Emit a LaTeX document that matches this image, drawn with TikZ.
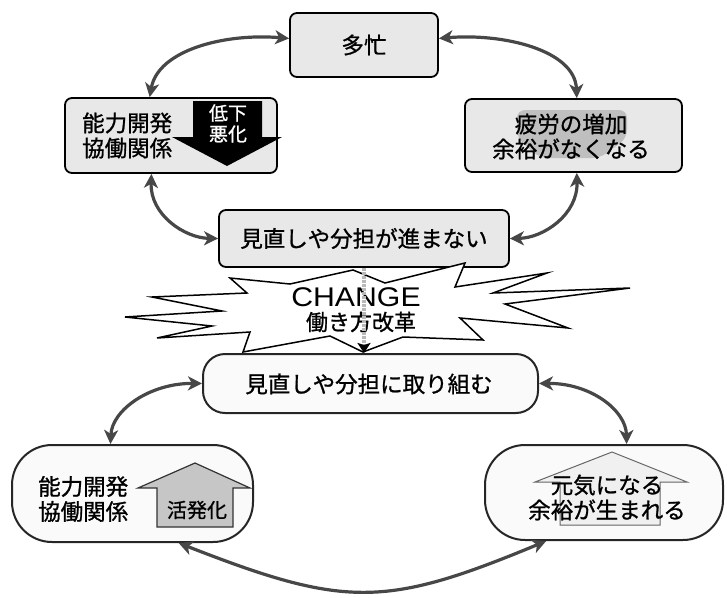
\documentclass[tikz,border=0pt]{standalone}
\usepackage{fontspec}
\usepackage{graphicx}
\setmainfont{Liberation Sans}
\newfontfamily\jp[FakeBold=1]{Noto Sans CJK JP}
\usetikzlibrary{arrows.meta}
\tikzset{
  cyc/.style={line width=3.2pt, draw=black!72,
    {Stealth[length=14pt,width=14pt,inset=4pt]}-{Stealth[length=14pt,width=14pt,inset=4pt]}},
  vert/.style={line width=4pt, draw=gray!55, dash pattern=on 3pt off 1pt, -{Stealth[length=10pt,width=13pt,inset=2pt,black]}},
  ubox/.style={draw=black, line width=1.8pt, rounded corners=7pt, fill=gray!18, inner sep=0pt},
  lbox/.style={draw=black!85, line width=2pt, fill=gray!4, inner sep=0pt},
  jt/.style={font=\jp\fontsize{22.5}{25}\selectfont, inner sep=0pt, align=center},
  jl/.style={font=\jp\fontsize{22.5}{25}\selectfont, inner sep=0pt, align=left, anchor=west},
  jw/.style={font=\jp\fontsize{19}{21}\selectfont, inner sep=0pt, text=white},
}
\begin{document}
\begin{tikzpicture}[x=1pt,y=-1pt]
\useasboundingbox (0,0) rectangle (727,597);

% upper cycle boxes
\node[ubox, minimum width=148pt, minimum height=64pt] (tabo) at (364,45) {};
\node[ubox, minimum width=212pt, minimum height=75pt] (leftA) at (171,135.5) {};
\node[ubox, minimum width=217pt, minimum height=73pt] (rightA) at (573.5,135.5) {};
\node[ubox, minimum width=290pt, minimum height=57pt] (midA) at (364,238.5) {};

% lower cycle boxes
\node[lbox, rounded corners=22pt, minimum width=335pt, minimum height=59pt] (midB) at (370.5,383.5) {};
\node[lbox, rounded corners=40pt, minimum width=241pt, minimum height=97pt] (leftB) at (132.5,493.5) {};
\node[lbox, rounded corners=40pt, minimum width=238pt, minimum height=95pt] (rightB) at (604,492.5) {};

% black down arrow in leftA
\fill[black] (193,101) -- (262,101) -- (262,137) -- (282,137) -- (227,166) -- (172,137) -- (193,137) -- cycle;
\node[jw] (teika) at (228,113) {低下};
\node[jw] (akka) at (228,134) {悪化};

% smudge in rightA
\fill[gray!50, rounded corners=8pt] (517,110) -- (627,110) -- (627,138) -- (600,158) -- (540,158) -- (517,138) -- cycle;

% up arrows in lower boxes
\filldraw[fill=gray!45, draw=black!80, line width=1.2pt]
  (195,463) -- (250,488) -- (233,488) -- (233,527) -- (157,527) -- (157,488) -- (138,488) -- cycle;
\filldraw[fill=gray!12, draw=black!60, line width=1pt]
  (612,452) -- (687,482) -- (660,482) -- (660,525) -- (560,525) -- (560,482) -- (535,482) -- cycle;

% texts
\node[jt] (tTabo) at (364,45) {多忙};
\node[jl] (tLeftA) at (82,135.5) {能力開発\\協働関係};
\node[jt] (tRightA) at (571,136.5) {疲労の増加\\余裕がなくなる};
\node[jt] (tMidA) at (364,238.5) {見直しや分担が進まない};
\node[jt] (tMidB) at (369,384) {見直しや分担に取り組む};
\node[jl] (tLeftB) at (38,499) {能力開発\\協働関係};
\node[jt, font=\jp\fontsize{20}{22}\selectfont] (tKatsu) at (197,510) {活発化};
\node[jt] (tRightB) at (607,497.5) {元気になる\\余裕が生まれる};

% star
\filldraw[fill=white, draw=black, line width=1.5pt]
 (353,270) -- (385,283) -- (465,263) -- (455,287) -- (547,273) -- (493,293) -- (630,288)
 -- (505,304) -- (568,328) -- (460,318) -- (483,340) -- (403,337) -- (363,352)
 -- (330,336) -- (243,352) -- (250,332) -- (157,338) -- (212,326) -- (125,317)
 -- (222,311) -- (152,297) -- (247,293) -- (230,278) -- (290,284) -- cycle;
\node[inner sep=0pt, font=\fontsize{27}{30}\selectfont] (change) at (356,297) {\scalebox{1.12}[1]{CHANGE}};
\node[jt, font=\jp\fontsize{22}{24}\selectfont] (kaikaku) at (361,322) {働き方改革};

% connectors
\draw[cyc] (tabo.175) .. controls (225,33) and (158,50) .. (leftA.119);
\draw[cyc] (tabo.5) .. controls (503,33) and (575,50) .. (rightA.85);
\draw[cyc] (leftA.-117) .. controls (150,215) and (185,238) .. (midA.west);
\draw[cyc] (rightA.-85) .. controls (578,215) and (543,238) .. (midA.east);
\draw[vert] (midA.south) -- (midA.south |- midB.north);
\draw[cyc] (midB.west) .. controls (150,383) and (112,410) .. (leftB.114);
\draw[cyc] (midB.east) .. controls (590,383) and (626,410) .. (rightB.65);
\draw[cyc] (leftB.-47) .. controls (345,608) and (385,608) .. (rightB.-140);
\end{tikzpicture}
\end{document}
